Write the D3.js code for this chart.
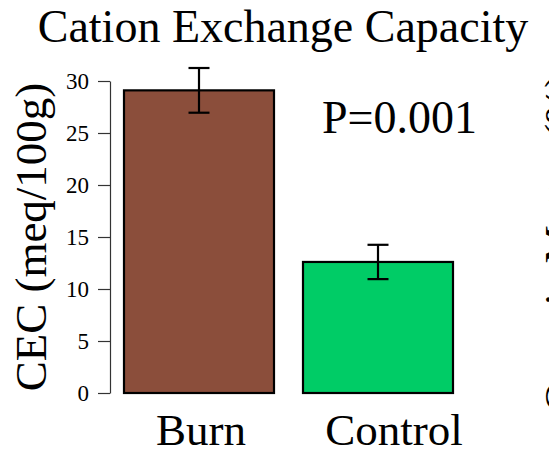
<!DOCTYPE html>
<html>
<head>
<meta charset="utf-8">
<script src="https://cdn.jsdelivr.net/npm/d3@7"></script>
<style>
  body { margin: 0; background: #fff; }
  svg { display: block; }
  svg text { font-family: "Liberation Serif", "Times New Roman", serif; }
</style>
</head>
<body>
<div id="chart"></div>
<script>
document.addEventListener("DOMContentLoaded", function() {

// data
var categories = ["Burn", "Control"];
var cecMeans = [29.1, 12.6];
var cecErrors = [2.15, 1.65];
var yTicks = [0, 5, 10, 15, 20, 25, 30];
var barColors = ["#8b4e3b", "#00cc66"];

var W = 549, H = 452;

var svg = d3.select("#chart")
  .append("svg")
  .attr("width", W)
  .attr("height", H);

var y = d3.scaleLinear()
  .domain([0, 30])
  .range([393, 81]);

var x = d3.scaleBand()
  .domain(categories)
  .range([109.5, 467.5])
  .paddingInner(0.162)
  .paddingOuter(0.081);

// Y axis
var yAxis = svg.append("g")
  .attr("transform", "translate(110,0)")
  .call(d3.axisLeft(y).tickValues(yTicks).tickSizeOuter(0).tickSizeInner(12).tickPadding(9));
yAxis.attr("font-family", null).attr("font-size", null);
yAxis.select(".domain").attr("stroke", "#333").attr("stroke-width", 1.2);
yAxis.selectAll(".tick line").attr("stroke", "#333").attr("stroke-width", 1.2);
yAxis.selectAll(".tick text")
  .style("font-family", "'Liberation Serif', serif")
  .style("font-size", "23px")
  .attr("fill", "#000");

// bars
var data = categories.map(function(c, i) {
  return {cat: c, mean: cecMeans[i], err: cecErrors[i], color: barColors[i]};
});

svg.append("g")
  .selectAll("rect")
  .data(data)
  .enter().append("rect")
    .attr("x", function(d) { return x(d.cat); })
    .attr("y", function(d) { return y(d.mean); })
    .attr("width", x.bandwidth())
    .attr("height", function(d) { return y(0) - y(d.mean); })
    .attr("fill", function(d) { return d.color; })
    .attr("stroke", "#000")
    .attr("stroke-width", 2.2);

// error bars
var capHalf = 10.5;
var eb = svg.append("g")
  .selectAll("g")
  .data(data)
  .enter().append("g")
  .attr("stroke", "#000")
  .attr("stroke-width", 2.2);

eb.append("line")
  .attr("x1", function(d) { return x(d.cat) + x.bandwidth() / 2; })
  .attr("x2", function(d) { return x(d.cat) + x.bandwidth() / 2; })
  .attr("y1", function(d) { return y(d.mean - d.err); })
  .attr("y2", function(d) { return y(d.mean + d.err); });
eb.append("line")
  .attr("x1", function(d) { return x(d.cat) + x.bandwidth() / 2 - capHalf; })
  .attr("x2", function(d) { return x(d.cat) + x.bandwidth() / 2 + capHalf; })
  .attr("y1", function(d) { return y(d.mean + d.err); })
  .attr("y2", function(d) { return y(d.mean + d.err); });
eb.append("line")
  .attr("x1", function(d) { return x(d.cat) + x.bandwidth() / 2 - capHalf; })
  .attr("x2", function(d) { return x(d.cat) + x.bandwidth() / 2 + capHalf; })
  .attr("y1", function(d) { return y(d.mean - d.err); })
  .attr("y2", function(d) { return y(d.mean - d.err); });

// category labels (the Control label sits a little right of its bar centre)
svg.append("g")
  .selectAll("text")
  .data(categories)
  .enter().append("text")
    .attr("x", function(d) { return x(d) + x.bandwidth() / 2; })
    .attr("dx", function(d, i) { return i === 0 ? 2 : 16; })
    .attr("y", 445)
    .attr("text-anchor", "middle")
    .style("font-size", "45px")
    .text(function(d) { return d; });

// title
svg.append("text")
  .attr("x", 283)
  .attr("y", 42)
  .attr("text-anchor", "middle")
  .style("font-size", "46px")
  .text("Cation Exchange Capacity");

// p value
svg.append("text")
  .attr("x", 322)
  .attr("y", 133)
  .style("font-size", "46px")
  .text("P=0.001");

// y label
svg.append("text")
  .attr("transform", "translate(46,237) rotate(-90)")
  .attr("text-anchor", "middle")
  .style("font-size", "45px")
  .text("CEC (meq/100g)");

// neighbouring panel's label, cut off at the right edge
svg.append("text")
  .attr("transform", "translate(574,412) rotate(-90)")
  .style("font-size", "43px")
  .text("Organic Matter (%)");

});
</script>
</body>
</html>
